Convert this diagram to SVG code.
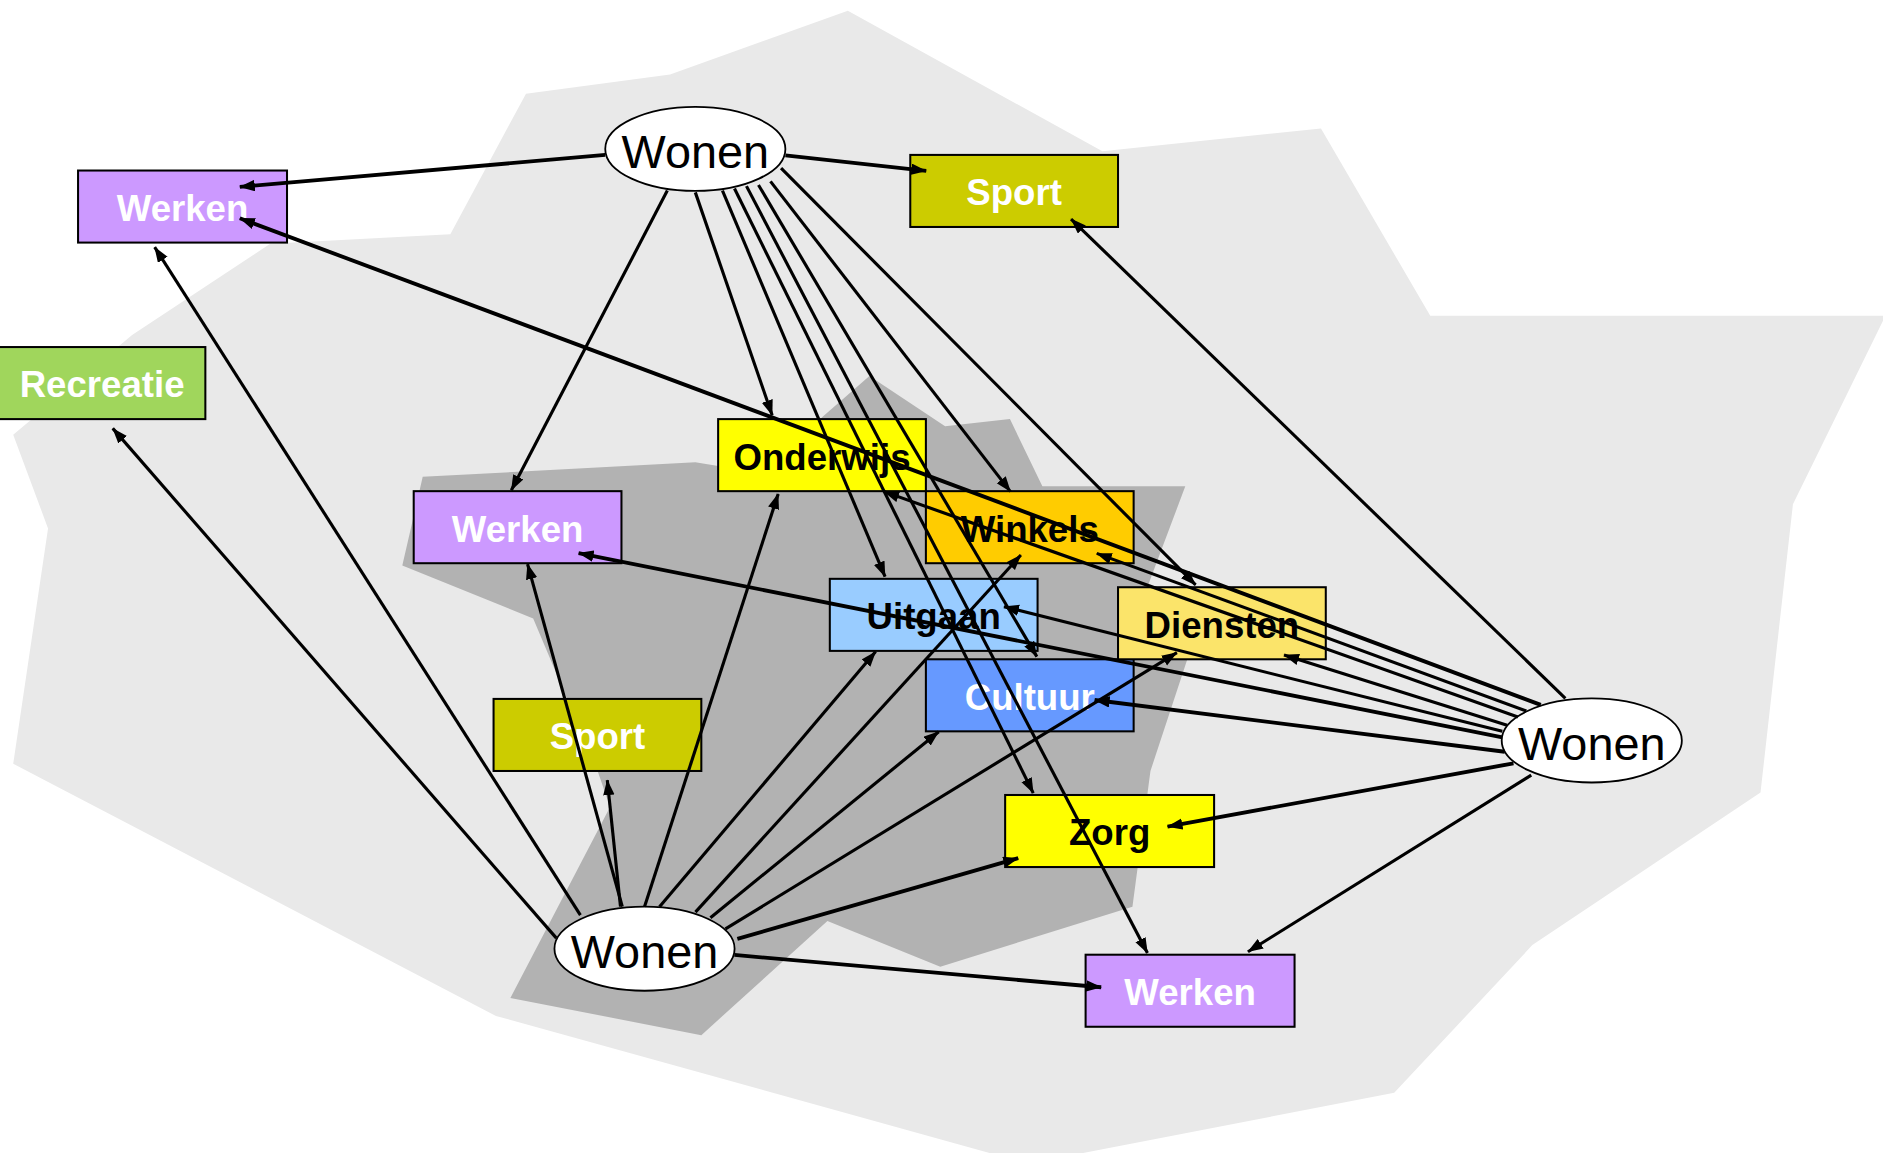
<svg xmlns="http://www.w3.org/2000/svg" width="1883" height="1153" viewBox="0 0 1883 1153">
<style>
.box{stroke:#000;stroke-width:1.7}
.ell{fill:#fff;stroke:#000;stroke-width:1.5}
.lb{font-family:"Liberation Sans",Arial,sans-serif;font-weight:bold;font-size:30.5px;fill:#000;text-anchor:middle}
.lw{font-family:"Liberation Sans",Arial,sans-serif;font-weight:bold;font-size:30.5px;fill:#fff;text-anchor:middle}
.won{font-family:"Liberation Sans",Arial,sans-serif;font-size:39px;fill:#000;text-anchor:middle}
.c line{stroke:#000;stroke-width:2.6;marker-end:url(#ah)}
.c line.t{stroke-width:3.2}
</style>
<defs>
<marker id="ah" markerUnits="userSpaceOnUse" markerWidth="14" markerHeight="10" refX="12.5" refY="4.75" orient="auto">
<path d="M0,0 L13,4.75 L0,9.5 z" fill="#000"/>
</marker>
</defs>
<rect width="1883" height="1153" fill="#fff"/>
<g transform="scale(1.20089)">
<g id="background">
<polygon fill="#e9e9e9" points="706,9 918,126 1100,107 1191,263 1570,263 1493,420 1466,660 1276,787 1161,910 856,969 413,846 11,636 40,440 11,362 110,279 225,203 375,195 438,78 558,62"/>
<polygon fill="#b2b2b2" points="352,397 579,385 640,395 685,347 724,313 787,355 841,349 868,405 987,405 955,490 990,545 958,642 943,755 783,805 689,767 584,862 425,831 508,672 498,643 444,515 335,471"/>
</g>
<g id="node-werken-tl"><rect class="box" x="65" y="142" width="174" height="60" fill="#cc99ff"/><text class="lw" x="152" y="184">Werken</text></g>
<g id="node-recreatie"><rect class="box" x="-2" y="289" width="173" height="60" fill="#a0d65c"/><text class="lw" x="85" y="331">Recreatie</text></g>
<g id="node-werken-mid"><rect class="box" x="344.5" y="409" width="173" height="60" fill="#cc99ff"/><text class="lw" x="431" y="451">Werken</text></g>
<g id="node-onderwijs"><rect class="box" x="598" y="349" width="173" height="60" fill="#ffff00"/><text class="lb" x="684.5" y="391">Onderwijs</text></g>
<g id="node-sport-top"><rect class="box" x="758" y="129" width="173" height="60" fill="#cccc00"/><text class="lw" x="844.5" y="171">Sport</text></g>
<g id="node-winkels"><rect class="box" x="771" y="409" width="173" height="60" fill="#ffcc00"/><text class="lb" x="857.5" y="451">Winkels</text></g>
<g id="node-uitgaan"><rect class="box" x="691" y="482" width="173" height="60" fill="#99ccff"/><text class="lb" x="777.5" y="524">Uitgaan</text></g>
<g id="node-cultuur"><rect class="box" x="771" y="549" width="173" height="60" fill="#6699ff"/><text class="lw" x="857.5" y="591">Cultuur</text></g>
<g id="node-diensten"><rect class="box" x="931" y="489" width="173" height="60" fill="#fbe46a"/><text class="lb" x="1017.5" y="531">Diensten</text></g>
<g id="node-sport-mid"><rect class="box" x="411" y="582" width="173" height="60" fill="#cccc00"/><text class="lw" x="497.5" y="624">Sport</text></g>
<g id="node-zorg"><rect class="box" x="837" y="662" width="174" height="60" fill="#ffff00"/><text class="lb" x="924" y="704">Zorg</text></g>
<g id="node-werken-bot"><rect class="box" x="904" y="795" width="174" height="60" fill="#cc99ff"/><text class="lw" x="991" y="837">Werken</text></g>
<g id="node-wonen-top"><ellipse class="ell" cx="579" cy="124" rx="75" ry="35"/><text class="won" x="579" y="140">Wonen</text></g>
<g id="node-wonen-bottom"><ellipse class="ell" cx="536.7" cy="790" rx="75" ry="35"/><text class="won" x="536.7" y="806">Wonen</text></g>
<g id="node-wonen-right"><ellipse class="ell" cx="1325.5" cy="616.6" rx="75" ry="35"/><text class="won" x="1325.5" y="632.6">Wonen</text></g>
<g id="connectors" class="c">
<line class="t" x1="504" y1="129" x2="199.7" y2="155.6"/>
<line class="t" x1="654" y1="129.4" x2="771.3" y2="142.3"/>
<line x1="555.7" y1="158.7" x2="425.8" y2="408.2"/>
<line x1="579" y1="160.2" x2="643" y2="345.7"/>
<line x1="601.6" y1="158.7" x2="737" y2="480.2"/>
<line x1="611.6" y1="157" x2="860.4" y2="660.4"/>
<line x1="621.6" y1="155" x2="955.5" y2="793.6"/>
<line x1="631.6" y1="154" x2="863.4" y2="546.8"/>
<line x1="641.6" y1="151" x2="841.4" y2="409.4"/>
<line x1="650.4" y1="140" x2="995.6" y2="487.1"/>
<line x1="463.3" y1="781.2" x2="93.9" y2="356.7"/>
<line x1="483.3" y1="762" x2="128.8" y2="205.8"/>
<line x1="518.2" y1="755" x2="439.3" y2="469.8"/>
<line x1="516.7" y1="755" x2="505.7" y2="649.6"/>
<line x1="536.7" y1="755" x2="648" y2="411.3"/>
<line x1="549.2" y1="755" x2="729.2" y2="542.6"/>
<line x1="579.1" y1="759.5" x2="850.1" y2="462.2"/>
<line x1="591.6" y1="764.2" x2="781.7" y2="609.3"/>
<line x1="604.1" y1="773.5" x2="980" y2="543.5"/>
<line class="t" x1="614" y1="781.8" x2="847.9" y2="714.6"/>
<line class="t" x1="611.5" y1="795.2" x2="917" y2="822.1"/>
<line x1="1303.5" y1="581.5" x2="891.9" y2="182.4"/>
<line class="t" x1="1283" y1="587" x2="199.7" y2="181.8"/>
<line x1="1271" y1="592" x2="913.3" y2="460.8"/>
<line x1="1264" y1="597" x2="736.2" y2="409.4"/>
<line x1="1255" y1="604" x2="1069.2" y2="545.4"/>
<line x1="1251" y1="609" x2="836" y2="505.2"/>
<line class="t" x1="1251" y1="614" x2="481.8" y2="460.6"/>
<line class="t" x1="1253" y1="626" x2="911.5" y2="582.9"/>
<line class="t" x1="1260.3" y1="635.6" x2="972.2" y2="688.4"/>
<line x1="1275.1" y1="645.4" x2="1039.2" y2="792.5"/>
</g>
</g>
</svg>
